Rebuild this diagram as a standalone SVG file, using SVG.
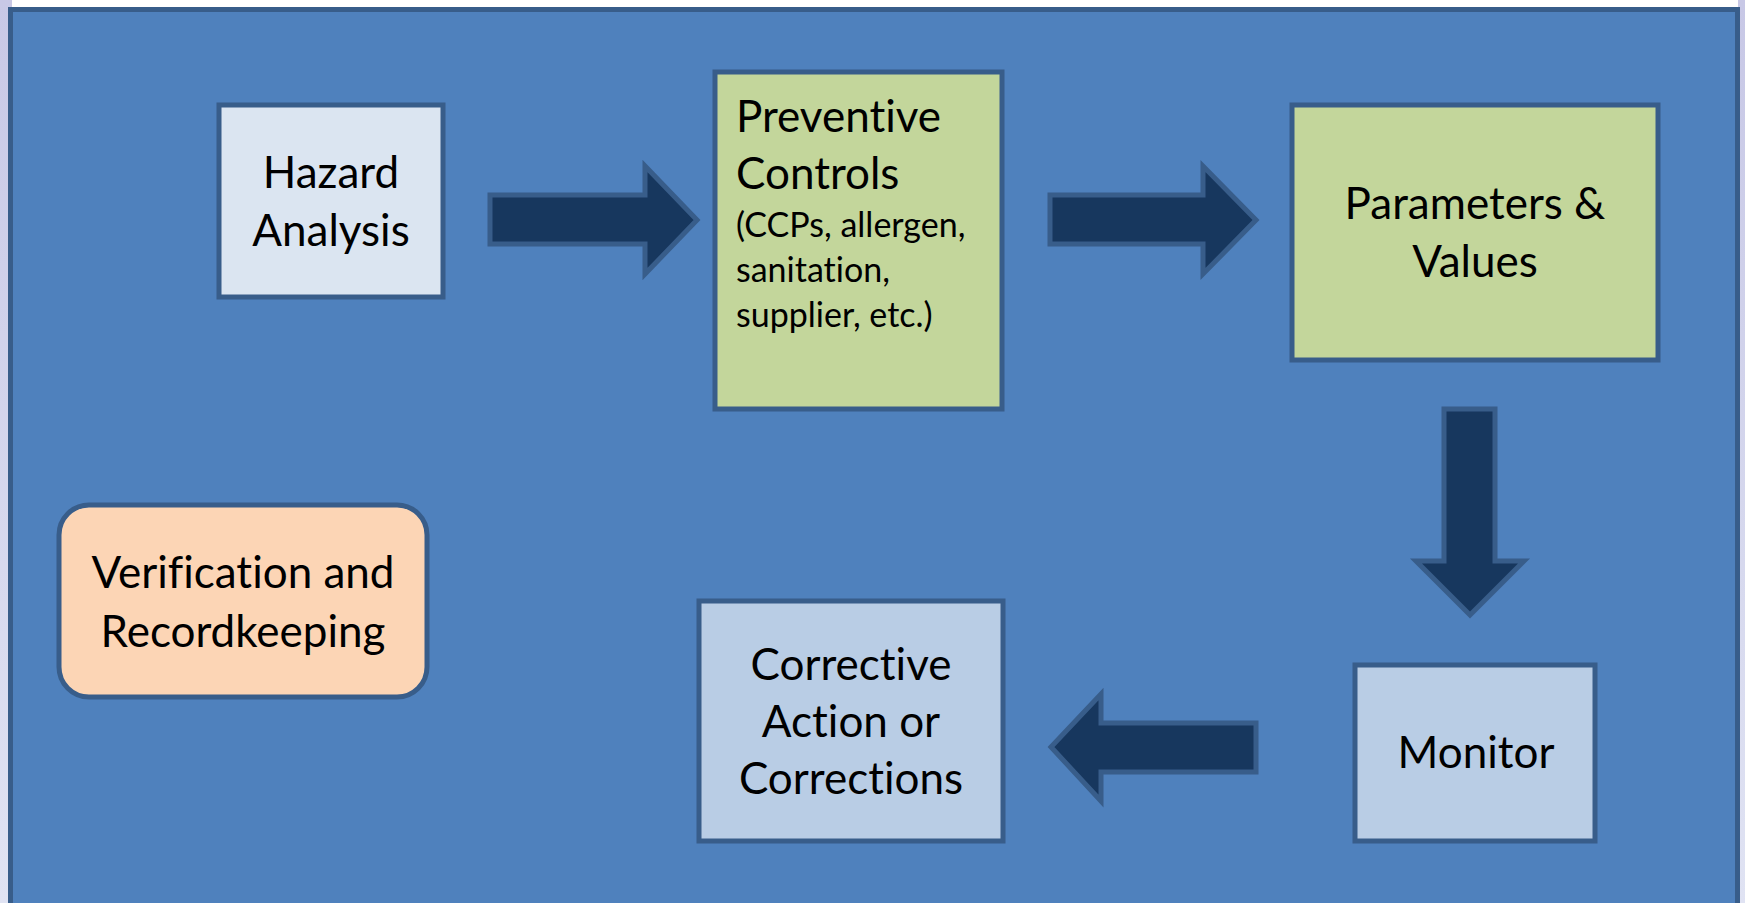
<svg xmlns="http://www.w3.org/2000/svg" width="1745" height="903" viewBox="0 0 1745 903">
<defs>
<linearGradient id="side" x1="0" y1="0" x2="0" y2="1">
<stop offset="0" stop-color="#c8c8e6"/>
<stop offset="1" stop-color="#e0e3f3"/>
</linearGradient>
<style>
.box{stroke:#385d8a;stroke-width:5}
.arrow{fill:#17375e;stroke:#385d8a;stroke-width:5;stroke-linejoin:miter}
.t{font-family:Lato,"Open Sans","Liberation Sans",sans-serif;font-size:44px;fill:#000;font-variant-ligatures:none;font-feature-settings:"liga" 0}
.s{font-family:Lato,"Open Sans","Liberation Sans",sans-serif;font-size:34px;fill:#000;font-variant-ligatures:none;font-feature-settings:"liga" 0}
.c{text-anchor:middle}
</style>
</defs>
<rect x="0" y="0" width="1745" height="903" fill="#ffffff"/>
<rect x="0" y="0" width="12" height="903" fill="url(#side)"/>
<rect x="1738" y="0" width="7" height="903" fill="url(#side)"/>
<rect id="frame" x="10.5" y="9.5" width="1727" height="900" fill="#4f81bd" stroke="#385d8a" stroke-width="5"/>

<g id="connectors">
<path class="arrow" d="M490,195 H645 V166 L697,220 L645,274 V244 H490 Z"/>
<path class="arrow" d="M1050,195 H1203 V166 L1256,220 L1203,274 V244 H1050 Z"/>
<path class="arrow" d="M1444,409 H1495 V561 H1524 L1470,615 L1416,561 H1444 Z"/>
<path class="arrow" d="M1256,723 V772 H1101 V801 L1051,747 L1101,694 V723 Z"/>
</g>

<g id="hazard">
<rect class="box" x="219" y="105" width="224" height="192" fill="#dbe5f1"/>
<text class="t c" x="331" y="188">Hazard</text>
<text class="t c" x="331" y="246">Analysis</text>
</g>

<g id="preventive">
<rect class="box" x="715" y="72" width="287" height="337" fill="#c3d69b"/>
<text class="t" x="736" y="132">Preventive</text>
<text class="t" x="736" y="189">Controls</text>
<text class="s" x="736" y="237">(CCPs, allergen,</text>
<text class="s" x="736" y="282">sanitation,</text>
<text class="s" x="736" y="327">supplier, etc.)</text>
</g>

<g id="parameters">
<rect class="box" x="1292" y="105" width="366" height="255" fill="#c3d69b"/>
<text class="t c" x="1475" y="219">Parameters &amp;</text>
<text class="t c" x="1475" y="277">Values</text>
</g>

<g id="verification">
<rect class="box" x="59" y="505" width="368" height="192" rx="30" ry="30" fill="#fcd5b5"/>
<text class="t c" x="243" y="588">Verification and</text>
<text class="t c" x="243" y="647">Recordkeeping</text>
</g>

<g id="corrective">
<rect class="box" x="699" y="601" width="304" height="240" fill="#b9cde5"/>
<text class="t c" x="851" y="680">Corrective</text>
<text class="t c" x="851" y="737">Action or</text>
<text class="t c" x="851" y="794">Corrections</text>
</g>

<g id="monitor">
<rect class="box" x="1355" y="665" width="240" height="176" fill="#b9cde5"/>
<text class="t c" x="1476" y="768">Monitor</text>
</g>
</svg>
